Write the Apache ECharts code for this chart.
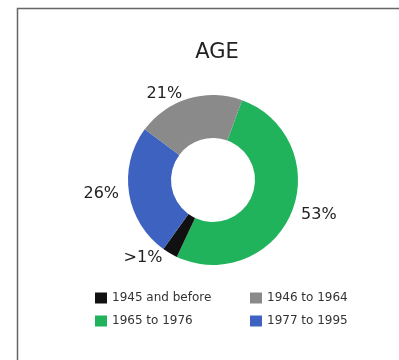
<!DOCTYPE html>
<html>
<head>
<meta charset="utf-8">
<script src="https://cdn.jsdelivr.net/npm/echarts@6/dist/echarts.min.js"></script>
<style>
  html, body { margin: 0; padding: 0; background: #ffffff; }
  #chart { width: 399px; height: 360px; }
</style>
</head>
<body>
<div id="chart"></div>
<script>
// Age groups, listed in the order the legend shows them
const categories = ['1945 and before', '1946 to 1964', '1965 to 1976', '1977 to 1995'];
// Share of each group, in percent (the smallest group is just over 1%)
const shares = [3, 21, 53, 26];
// Text printed beside each slice
const shareLabels = ['>1%', '21%', '53%', '26%'];
const colors = ['#111111', '#8a8a8a', '#21b35c', '#3d62c0'];

// Slices run clockwise: 1965-1976, 1945 and before, 1977-1995, 1946-1964
const ringOrder = [2, 0, 3, 1];

const pieData = ringOrder.map(i => ({
  name: categories[i],
  value: shares[i],
  itemStyle: { color: colors[i] },
  label: { formatter: shareLabels[i] }
}));

const font = '"DejaVu Sans", "Noto Sans", sans-serif';

const legendBase = {
  orient: 'vertical',
  top: 287,
  itemWidth: 12,
  itemHeight: 11,
  itemGap: 11,
  icon: 'rect',
  textStyle: { fontFamily: font, fontSize: 12, color: '#333333' }
};

const chart = echarts.init(document.getElementById('chart'), null, { renderer: 'canvas' });
chart.setOption({
  animation: false,
  backgroundColor: '#ffffff',
  color: colors,
  title: {
    text: 'AGE',
    left: 212,
    top: 37,
    textAlign: 'center',
    textStyle: { fontFamily: font, fontSize: 21, fontWeight: 'normal', color: '#222222' }
  },
  legend: [
    Object.assign({}, legendBase, { data: [categories[0], categories[2]], left: 90 }),
    Object.assign({}, legendBase, { data: [categories[1], categories[3]], left: 245 })
  ],
  graphic: [
    {
      type: 'polyline',
      shape: { points: [[17.5, 360], [17.5, 8.5], [399, 8.5]] },
      style: { stroke: '#666666', lineWidth: 1.5, fill: null }
    }
  ],
  series: [
    {
      type: 'pie',
      center: [213, 180],
      radius: [42, 85],
      startAngle: 70,
      clockwise: true,
      avoidLabelOverlap: false,
      data: pieData,
      label: {
        show: true,
        position: 'outside',
        fontFamily: font,
        fontSize: 16,
        color: '#222222'
      },
      labelLine: { show: false, length: 5, length2: 0 },
      emphasis: { disabled: true }
    }
  ]
});
</script>
</body>
</html>
